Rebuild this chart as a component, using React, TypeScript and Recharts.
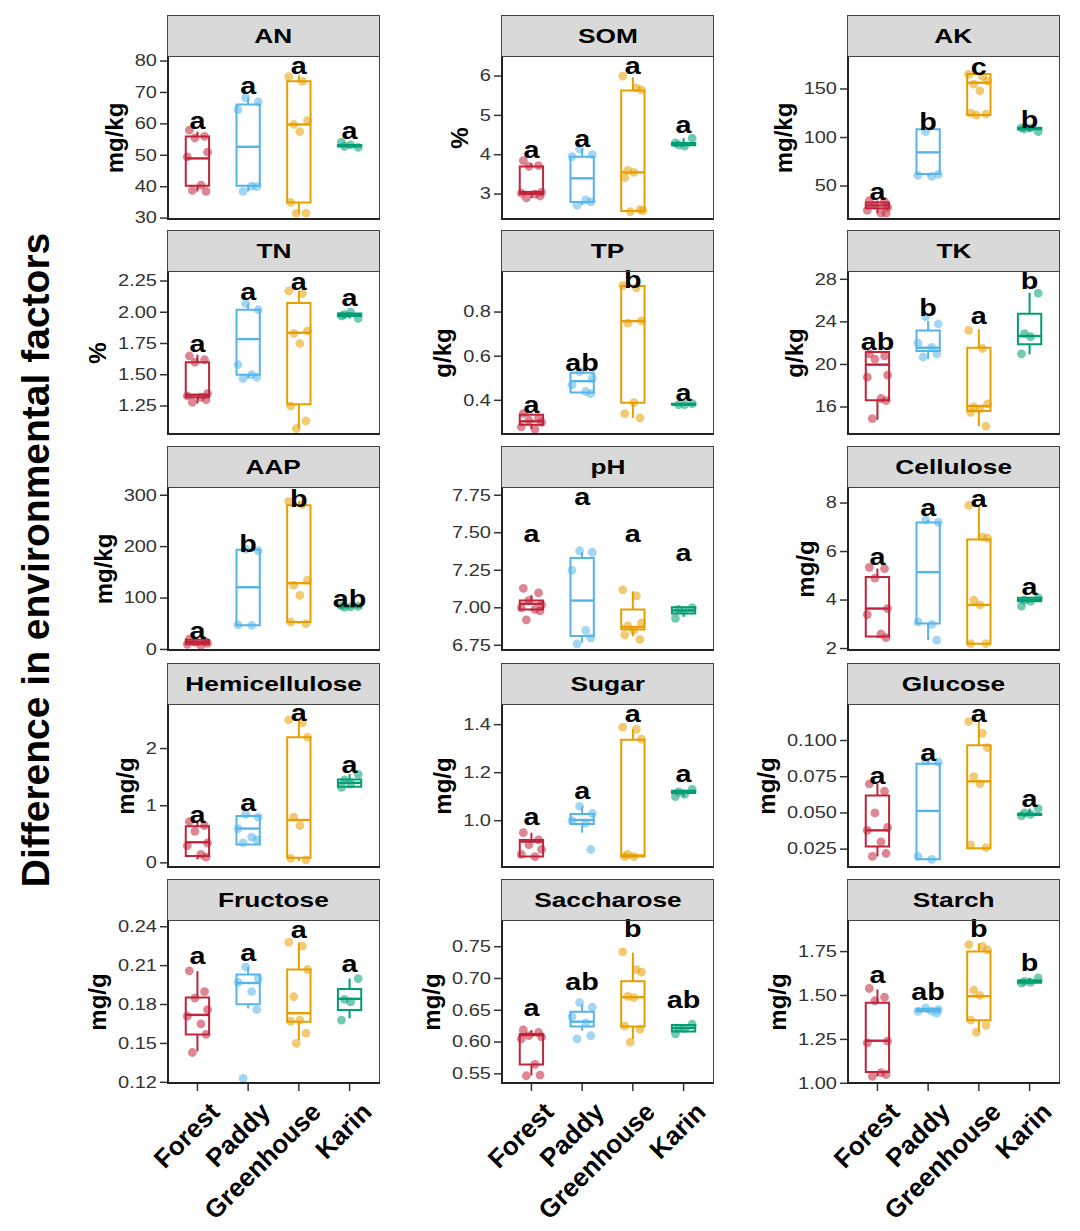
import { ComposedChart, XAxis, YAxis, Scatter, ReferenceArea, ReferenceLine } from 'recharts'

// 分组与配色
const GROUPS = ['Forest', 'Paddy', 'Greenhouse', 'Karin']
const COLORS = ['#C0243A', '#56B4E9', '#E69F00', '#009E73']
// 抖动偏移（按点序号取用）
const JITTER = [-0.16, 0.14, -0.05, 0.2, -0.2, 0.07, 0.17, -0.1, 0.02]

// 每个面板：箱线 [下须, Q1, 中位数, Q3, 上须]、散点、显著性字母及其高度
const AN_DOMAIN = [29.4, 81.6]
const AN_TICKS = [30, 40, 50, 60, 70, 80]
const AN_BOX = [[38.5, 40.3, 49, 56, 57.5], [38.5, 40.3, 52.7, 66.2, 68.3], [31.5, 35, 59.8, 73.6, 75.5], [52.5, 52.8, 53, 53.3, 53.6]]
const AN_PTS = [[58, 56, 55.5, 51, 49.5, 40.5, 38.5, 38.8], [68.3, 67, 64.5, 40.2, 40, 38.5], [75, 73.5, 61, 59.8, 57.5, 35, 31.6, 31.5], [52.5, 52.8, 53.3, 54.2]]
const AN_LET = ['a', 'a', 'a', 'a']
const AN_LETY = [58.5, 69.4, 75.9, 55.1]

const SOM_DOMAIN = [2.34, 6.51]
const SOM_TICKS = [3, 4, 5, 6]
const SOM_BOX = [[2.9, 3.0, 3.05, 3.7, 3.78], [2.72, 2.8, 3.4, 3.95, 4.15], [2.55, 2.57, 3.55, 5.63, 5.97], [4.2, 4.24, 4.28, 4.3, 4.42]]
const SOM_PTS = [[3.85, 3.72, 3.7, 3.05, 3.02, 3.0, 2.95, 2.9], [4.15, 4.0, 3.95, 2.85, 2.8, 2.72], [6.0, 5.7, 5.65, 3.6, 3.55, 3.42, 2.6, 2.55, 2.58], [4.42, 4.25, 4.22, 4.3]]
const SOM_LET = ['a', 'a', 'a', 'a']
const SOM_LETY = [3.91, 4.2, 6.05, 4.54]

const AK_DOMAIN = [15, 184]
const AK_TICKS = [50, 100, 150]
const AK_BOX = [[22, 27, 30, 33, 35], [60, 62.3, 84.7, 108.4, 108.5], [123, 123.2, 156.5, 165.5, 166], [106, 108.5, 109.5, 110, 110.5]]
const AK_PTS = [[35, 34, 30, 28, 25, 22, 22], [106, 62, 61, 60], [165, 163, 158, 155, 148, 125, 124, 123], [106, 109, 110, 110]]
const AK_LET = ['a', 'b', 'c', 'b']
const AK_LETY = [35.7, 107.7, 164.4, 109.5]

const TN_DOMAIN = [1.018, 2.33]
const TN_TICKS = [1.25, 1.5, 1.75, 2, 2.25]
const TN_BOX = [[1.27, 1.32, 1.34, 1.6, 1.66], [1.47, 1.5, 1.785, 2.02, 2.07], [1.07, 1.264, 1.836, 2.074, 2.17], [1.95, 1.97, 1.98, 1.99, 2.0]]
const TN_PTS = [[1.65, 1.62, 1.6, 1.35, 1.33, 1.32, 1.3, 1.28], [2.07, 2.02, 1.58, 1.5, 1.48, 1.47], [2.17, 2.15, 1.85, 1.83, 1.75, 1.25, 1.13, 1.07], [1.95, 1.98, 2.0, 1.97]]
const TN_LET = ['a', 'a', 'a', 'a']
const TN_LETY = [1.68, 2.095, 2.18, 2.05]

const TP_DOMAIN = [0.243, 0.986]
const TP_TICKS = [0.4, 0.6, 0.8]
const TP_BOX = [[0.27, 0.29, 0.305, 0.335, 0.34], [0.43, 0.435, 0.487, 0.525, 0.53], [0.32, 0.389, 0.759, 0.918, 0.92], [0.378, 0.38, 0.382, 0.385, 0.386]]
const TP_PTS = [[0.34, 0.32, 0.31, 0.3, 0.28, 0.27], [0.53, 0.5, 0.47, 0.44, 0.43], [0.92, 0.91, 0.76, 0.75, 0.39, 0.34, 0.32], [0.385, 0.38, 0.38]]
const TP_LET = ['a', 'ab', 'b', 'a']
const TP_LETY = [0.344, 0.533, 0.91, 0.397]

const TK_DOMAIN = [13.37, 28.78]
const TK_TICKS = [16, 20, 24, 28]
const TK_BOX = [[14.8, 16.63, 19.98, 21.17, 21.2], [20.5, 21.26, 21.57, 23.2, 24.08], [14.21, 15.62, 16.09, 21.57, 23.3], [20.95, 21.89, 22.67, 24.77, 26.74]]
const TK_PTS = [[21.0, 20.8, 20.5, 19.0, 18.8, 16.8, 16.6, 14.9], [24.5, 23.8, 22.0, 21.6, 21.0, 20.7], [23.2, 21.5, 16.3, 16.0, 15.8, 15.5, 14.2], [26.7, 22.9, 22.6, 21.0]]
const TK_LET = ['ab', 'b', 'a', 'b']
const TK_LETY = [21.4, 24.55, 23.77, 27.06]

const AAP_DOMAIN = [-3, 316]
const AAP_TICKS = [0, 100, 200, 300]
const AAP_BOX = [[8, 10, 14, 19, 20], [46, 47, 121, 194, 196], [50, 53.5, 129, 280.5, 288], [81, 82, 83, 84, 85]]
const AAP_PTS = [[20, 16, 14, 12, 10, 8], [195, 192, 48, 47], [288, 282, 135, 125, 105, 53, 50], [84, 82, 83, 85]]
const AAP_LET = ['a', 'b', 'b', 'ab']
const AAP_LETY = [20, 190, 277, 82]

const PH_DOMAIN = [6.712, 7.805]
const PH_TICKS = [6.75, 7, 7.25, 7.5, 7.75]
const PH_BOX = [[6.98, 6.989, 7.027, 7.048, 7.084], [6.768, 6.812, 7.048, 7.332, 7.37], [6.81, 6.856, 6.872, 6.989, 7.11], [6.94, 6.962, 6.982, 7.004, 7.006]]
const PH_PTS = [[7.13, 7.1, 7.05, 7.02, 7.0, 6.99, 6.98, 6.92], [7.38, 7.37, 7.25, 6.85, 6.8, 6.76], [7.12, 7.08, 6.9, 6.88, 6.85, 6.82, 6.79], [7.0, 6.99, 6.98, 6.93]]
const PH_LET = ['a', 'a', 'a', 'a']
const PH_LETY = [7.44, 7.685, 7.44, 7.31]

const CEL_DOMAIN = [1.9, 8.66]
const CEL_TICKS = [2, 4, 6, 8]
const CEL_BOX = [[2.45, 2.5, 3.65, 4.95, 5.3], [2.35, 3.03, 5.15, 7.2, 7.3], [2.2, 2.2, 3.8, 6.5, 7.9], [3.9, 3.95, 4.0, 4.1, 4.12]]
const CEL_PTS = [[5.35, 5.3, 4.9, 3.65, 3.4, 2.6, 2.45], [7.3, 7.2, 3.1, 3.0, 2.35], [7.9, 6.6, 6.55, 4.0, 3.8, 2.2, 2.2], [4.1, 4.0, 3.95, 3.75]]
const CEL_LET = ['a', 'a', 'a', 'a']
const CEL_LETY = [5.45, 7.48, 7.85, 4.2]

const HEM_DOMAIN = [-0.09, 2.78]
const HEM_TICKS = [0, 1, 2]
const HEM_BOX = [[0.06, 0.12, 0.36, 0.64, 0.75], [0.32, 0.32, 0.6, 0.82, 0.85], [0.03, 0.09, 0.75, 2.2, 2.49], [1.32, 1.33, 1.4, 1.46, 1.55]]
const HEM_PTS = [[0.72, 0.65, 0.55, 0.35, 0.3, 0.15, 0.1], [0.85, 0.8, 0.6, 0.45, 0.4, 0.35], [2.5, 2.45, 2.2, 0.8, 0.65, 0.08, 0.05], [1.55, 1.45, 1.38, 1.32]]
const HEM_LET = ['a', 'a', 'a', 'a']
const HEM_LETY = [0.7, 0.9, 2.49, 1.57]

const SUG_DOMAIN = [0.803, 1.486]
const SUG_TICKS = [1.0, 1.2, 1.4]
const SUG_BOX = [[0.85, 0.851, 0.913, 0.92, 0.95], [0.95, 0.986, 1.003, 1.028, 1.06], [0.85, 0.851, 0.855, 1.337, 1.38], [1.1, 1.115, 1.12, 1.125, 1.13]]
const SUG_PTS = [[0.95, 0.92, 0.9, 0.88, 0.86, 0.85], [1.06, 1.03, 1.0, 0.99, 0.88], [1.39, 1.38, 1.34, 0.86, 0.85, 0.85], [1.13, 1.12, 1.11, 1.1]]
const SUG_LET = ['a', 'a', 'a', 'a']
const SUG_LETY = [0.98, 1.09, 1.41, 1.16]

const GLU_DOMAIN = [0.012, 0.1252]
const GLU_TICKS = [0.025, 0.05, 0.075, 0.1]
const GLU_BOX = [[0.02, 0.0268, 0.038, 0.062, 0.07], [0.018, 0.018, 0.0514, 0.084, 0.086], [0.025, 0.0257, 0.0718, 0.0968, 0.114], [0.048, 0.0485, 0.049, 0.0495, 0.053]]
const GLU_PTS = [[0.07, 0.065, 0.05, 0.04, 0.038, 0.03, 0.022, 0.02], [0.086, 0.085, 0.02, 0.018], [0.113, 0.105, 0.095, 0.075, 0.07, 0.028, 0.026], [0.053, 0.05, 0.049, 0.048]]
const GLU_LET = ['a', 'a', 'a', 'a']
const GLU_LETY = [0.07, 0.086, 0.113, 0.054]

const FRU_DOMAIN = [0.1187, 0.2452]
const FRU_TICKS = [0.12, 0.15, 0.18, 0.21, 0.24]
const FRU_BOX = [[0.1439, 0.1569, 0.172, 0.1855, 0.2057], [0.177, 0.1803, 0.1966, 0.2031, 0.2088], [0.1525, 0.1668, 0.1733, 0.207, 0.2278], [0.1693, 0.1758, 0.1844, 0.192, 0.2]]
const FRU_PTS = [[0.206, 0.19, 0.185, 0.176, 0.171, 0.165, 0.157, 0.143], [0.209, 0.2, 0.197, 0.19, 0.176, 0.123], [0.228, 0.225, 0.207, 0.186, 0.168, 0.167, 0.158, 0.15], [0.2, 0.184, 0.182, 0.168]]
const FRU_LET = ['a', 'a', 'a', 'a']
const FRU_LETY = [0.211, 0.2135, 0.2317, 0.205]

const SAC_DOMAIN = [0.534, 0.792]
const SAC_TICKS = [0.55, 0.6, 0.65, 0.7, 0.75]
const SAC_BOX = [[0.5475, 0.5647, 0.611, 0.6125, 0.619], [0.6177, 0.6244, 0.632, 0.6478, 0.659], [0.6047, 0.6244, 0.6706, 0.6956, 0.7408], [0.6166, 0.6166, 0.622, 0.627, 0.628]]
const SAC_PTS = [[0.619, 0.615, 0.61, 0.608, 0.605, 0.565, 0.548, 0.547], [0.662, 0.655, 0.64, 0.63, 0.61, 0.605], [0.742, 0.714, 0.71, 0.672, 0.67, 0.625, 0.62, 0.6], [0.628, 0.622, 0.621, 0.613]]
const SAC_LET = ['a', 'ab', 'b', 'ab']
const SAC_LETY = [0.641, 0.6826, 0.7657, 0.654]

const STA_DOMAIN = [0.996, 1.93]
const STA_TICKS = [1, 1.25, 1.5, 1.75]
const STA_BOX = [[1.04, 1.064, 1.2425, 1.459, 1.534], [1.4, 1.41, 1.415, 1.425, 1.43], [1.29, 1.359, 1.496, 1.75, 1.797], [1.57, 1.573, 1.578, 1.585, 1.6]]
const STA_PTS = [[1.54, 1.49, 1.47, 1.24, 1.23, 1.06, 1.05, 1.04], [1.43, 1.42, 1.41, 1.41, 1.4], [1.79, 1.78, 1.76, 1.53, 1.5, 1.36, 1.33, 1.29], [1.6, 1.58, 1.575, 1.57]]
const STA_LET = ['a', 'ab', 'b', 'b']
const STA_LETY = [1.57, 1.477, 1.835, 1.637]

interface PanelDef {
  title: string
  unit: string
  domain: number[]
  ticks: number[]
  dec: number
  box: number[][]
  pts: number[][]
  letters: string[]
  letterY: number[]
}

const PANELS: PanelDef[] = [
  { title: 'AN', unit: 'mg/kg', domain: AN_DOMAIN, ticks: AN_TICKS, dec: 0, box: AN_BOX, pts: AN_PTS, letters: AN_LET, letterY: AN_LETY },
  { title: 'SOM', unit: '%', domain: SOM_DOMAIN, ticks: SOM_TICKS, dec: 0, box: SOM_BOX, pts: SOM_PTS, letters: SOM_LET, letterY: SOM_LETY },
  { title: 'AK', unit: 'mg/kg', domain: AK_DOMAIN, ticks: AK_TICKS, dec: 0, box: AK_BOX, pts: AK_PTS, letters: AK_LET, letterY: AK_LETY },
  { title: 'TN', unit: '%', domain: TN_DOMAIN, ticks: TN_TICKS, dec: 2, box: TN_BOX, pts: TN_PTS, letters: TN_LET, letterY: TN_LETY },
  { title: 'TP', unit: 'g/kg', domain: TP_DOMAIN, ticks: TP_TICKS, dec: 1, box: TP_BOX, pts: TP_PTS, letters: TP_LET, letterY: TP_LETY },
  { title: 'TK', unit: 'g/kg', domain: TK_DOMAIN, ticks: TK_TICKS, dec: 0, box: TK_BOX, pts: TK_PTS, letters: TK_LET, letterY: TK_LETY },
  { title: 'AAP', unit: 'mg/kg', domain: AAP_DOMAIN, ticks: AAP_TICKS, dec: 0, box: AAP_BOX, pts: AAP_PTS, letters: AAP_LET, letterY: AAP_LETY },
  { title: 'pH', unit: '', domain: PH_DOMAIN, ticks: PH_TICKS, dec: 2, box: PH_BOX, pts: PH_PTS, letters: PH_LET, letterY: PH_LETY },
  { title: 'Cellulose', unit: 'mg/g', domain: CEL_DOMAIN, ticks: CEL_TICKS, dec: 0, box: CEL_BOX, pts: CEL_PTS, letters: CEL_LET, letterY: CEL_LETY },
  { title: 'Hemicellulose', unit: 'mg/g', domain: HEM_DOMAIN, ticks: HEM_TICKS, dec: 0, box: HEM_BOX, pts: HEM_PTS, letters: HEM_LET, letterY: HEM_LETY },
  { title: 'Sugar', unit: 'mg/g', domain: SUG_DOMAIN, ticks: SUG_TICKS, dec: 1, box: SUG_BOX, pts: SUG_PTS, letters: SUG_LET, letterY: SUG_LETY },
  { title: 'Glucose', unit: 'mg/g', domain: GLU_DOMAIN, ticks: GLU_TICKS, dec: 3, box: GLU_BOX, pts: GLU_PTS, letters: GLU_LET, letterY: GLU_LETY },
  { title: 'Fructose', unit: 'mg/g', domain: FRU_DOMAIN, ticks: FRU_TICKS, dec: 2, box: FRU_BOX, pts: FRU_PTS, letters: FRU_LET, letterY: FRU_LETY },
  { title: 'Saccharose', unit: 'mg/g', domain: SAC_DOMAIN, ticks: SAC_TICKS, dec: 2, box: SAC_BOX, pts: SAC_PTS, letters: SAC_LET, letterY: SAC_LETY },
  { title: 'Starch', unit: 'mg/g', domain: STA_DOMAIN, ticks: STA_TICKS, dec: 2, box: STA_BOX, pts: STA_PTS, letters: STA_LET, letterY: STA_LETY },
]

// 版面：面板绘图区位置
const COL_LEFT = [167, 501, 847]
const ROW_TOP = [15, 230, 446, 663, 879]
const PLOT_W = 213
const STRIP_H = 41
const PLOT_H = 164
const Y_W = 80
const X_H = 146
const PAD = 14 // 上下留白，免得端点刻度字被裁掉
const SX = 1.25 // 原图文字横向偏宽
const HALF_BOX = 0.23
const FONT = "'Liberation Sans', Arial, sans-serif"

// 估算刻度文字宽度，用来摆放单位标签
function labelWidth(s: string): number {
  let w = 0
  for (const ch of s) w += ch === '.' ? 0.278 : 0.556
  return w * 16 * SX
}

function YTick(props: any) {
  const { x, y, payload, dec } = props
  return (
    <text transform={`translate(${x},${y}) scale(${SX},1)`} textAnchor="end" dominantBaseline="central" fontSize={16} fill="#333">
      {Number(payload.value).toFixed(dec)}
    </text>
  )
}

function XTick(props: any) {
  const { x, y, payload } = props
  return (
    <g transform={`translate(${x + 10},${y + 7})`}>
      <text transform="rotate(-45)" textAnchor="end" dy="0.74em" fontSize={26} fontWeight="bold" fill="#000">
        {GROUPS[payload.value - 1]}
      </text>
    </g>
  )
}

function Panel({ p, row, col }: { p: PanelDef; row: number; col: number }) {
  const left = COL_LEFT[col]
  const top = ROW_TOP[row]
  const bottom = row === 4
  const maxW = Math.max(...p.ticks.map(t => labelWidth(t.toFixed(p.dec))))
  const unitX = left - 10 - maxW - 20
  const letterData = p.letters.map((l, g) => ({ x: g + 1, y: p.letterY[g], label: l }))

  return (
    <>
      <div style={{
        position: 'absolute', left, top, width: PLOT_W, height: STRIP_H, boxSizing: 'border-box',
        background: '#D9D9D9', border: '1.5px solid #444', borderBottom: 'none',
        display: 'flex', alignItems: 'center', justifyContent: 'center',
      }}>
        <span style={{ display: 'inline-block', transform: `scaleX(${SX})`, fontSize: 21, fontWeight: 'bold', color: '#000' }}>{p.title}</span>
      </div>
      <div style={{ position: 'absolute', left: left - Y_W, top: top + STRIP_H - PAD }}>
        <ComposedChart width={Y_W + PLOT_W + 2} height={PLOT_H + PAD + (bottom ? X_H : PAD)}
          margin={{ top: PAD, right: 2, bottom: bottom ? 0 : PAD, left: 0 }}>
          <XAxis type="number" dataKey="x" domain={[0.4, 4.6]} ticks={[1, 2, 3, 4]} interval={0} hide={!bottom}
            height={X_H} axisLine={false} tickLine={{ stroke: '#333', strokeWidth: 1.5 }} tickSize={7} tick={XTick} />
          <YAxis type="number" dataKey="y" domain={p.domain} ticks={p.ticks} interval={0} width={Y_W}
            axisLine={false} tickLine={{ stroke: '#333', strokeWidth: 1.5 }} tickSize={7} tickMargin={3}
            tick={(t: any) => <YTick {...t} dec={p.dec} />} />
          {p.box.map(([lo, q1, med, q3, hi], g) => (
            <ReferenceArea key={`b${g}`} x1={g + 1 - HALF_BOX} x2={g + 1 + HALF_BOX} y1={q1} y2={q3}
              fill="none" fillOpacity={0} stroke={COLORS[g]} strokeWidth={2} strokeOpacity={1} />
          ))}
          {p.box.map(([lo, q1, med, q3, hi], g) => (
            <ReferenceLine key={`m${g}`} segment={[{ x: g + 1 - HALF_BOX, y: med }, { x: g + 1 + HALF_BOX, y: med }]}
              stroke={COLORS[g]} strokeWidth={2.4} />
          ))}
          {p.box.map(([lo, q1, med, q3, hi], g) => (
            <ReferenceLine key={`u${g}`} segment={[{ x: g + 1, y: q3 }, { x: g + 1, y: hi }]} stroke={COLORS[g]} strokeWidth={2} />
          ))}
          {p.box.map(([lo, q1, med, q3, hi], g) => (
            <ReferenceLine key={`l${g}`} segment={[{ x: g + 1, y: lo }, { x: g + 1, y: q1 }]} stroke={COLORS[g]} strokeWidth={2} />
          ))}
          {p.pts.map((vals, g) => (
            <Scatter key={`p${g}`} isAnimationActive={false}
              data={vals.map((v, i) => ({ x: g + 1 + JITTER[(i + g * 2) % JITTER.length], y: v }))}
              shape={(s: any) => <circle cx={s.cx} cy={s.cy} r={4.4} fill={COLORS[g]} fillOpacity={0.55} />} />
          ))}
          <Scatter isAnimationActive={false} data={letterData}
            shape={(s: any) => (
              <text transform={`translate(${s.cx},${s.cy}) scale(${SX},1)`} textAnchor="middle" fontSize={23} fontWeight="bold" fill="#000">
                {s.payload.label}
              </text>
            )} />
        </ComposedChart>
      </div>
      <div style={{
        position: 'absolute', left, top: top + STRIP_H, width: PLOT_W, height: PLOT_H, boxSizing: 'border-box',
        borderTop: '1.5px solid #444', borderRight: '1.5px solid #444', borderLeft: '2px solid #222', borderBottom: '2px solid #222',
        pointerEvents: 'none',
      }} />
      {p.unit && (
        <div style={{
          position: 'absolute', left: unitX, top: top + STRIP_H + PLOT_H / 2,
          transform: 'translate(-50%,-50%) rotate(-90deg)', whiteSpace: 'nowrap',
          fontSize: 24, fontWeight: 'bold', lineHeight: 1, color: '#000',
        }}>{p.unit}</div>
      )}
    </>
  )
}

export default function App() {
  return (
    <div style={{ position: 'absolute', left: 0, top: 0, width: 1080, height: 1231, background: '#fff', fontFamily: FONT, overflow: 'hidden' }}>
      <div style={{
        position: 'absolute', left: 35, top: 560, transform: 'translate(-50%,-50%) rotate(-90deg)',
        whiteSpace: 'nowrap', fontSize: 39, fontWeight: 'bold', lineHeight: 1, color: '#000',
      }}>Difference in environmental factors</div>
      {PANELS.map((p, i) => (
        <Panel key={p.title} p={p} row={Math.floor(i / 3)} col={i % 3} />
      ))}
    </div>
  )
}
